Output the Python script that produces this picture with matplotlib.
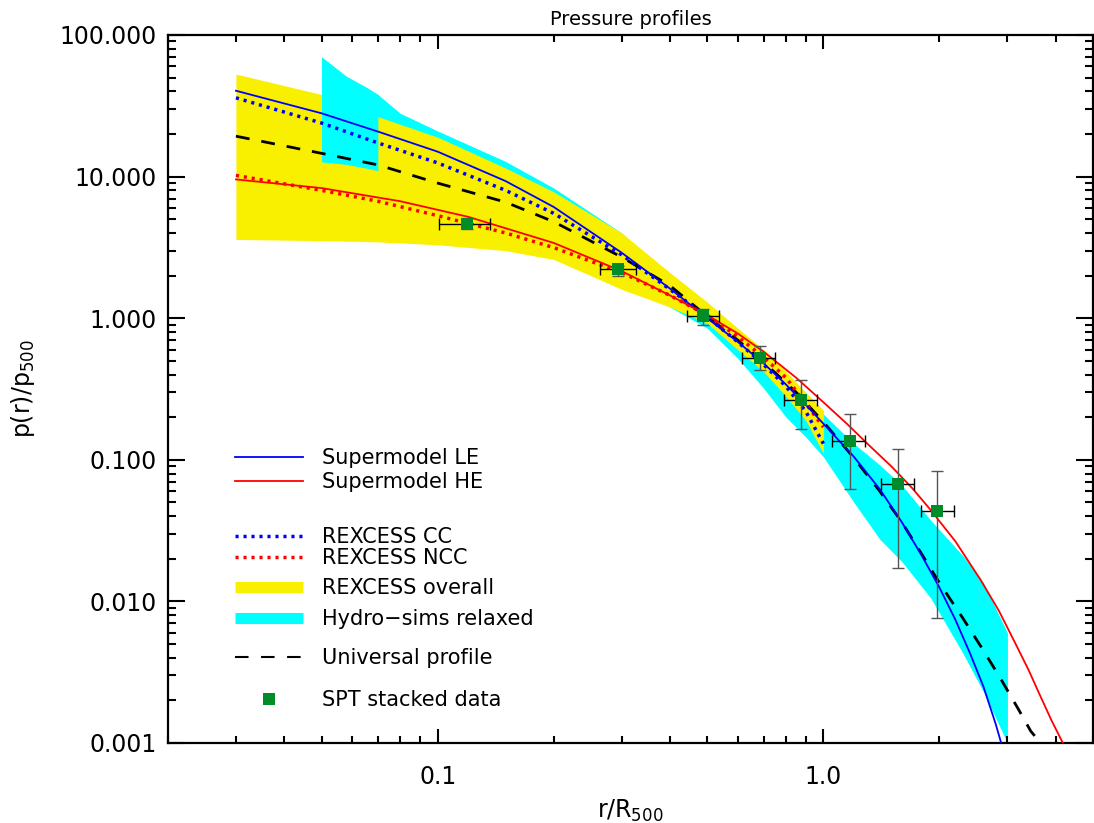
import numpy as np
import matplotlib
matplotlib.use('Agg')
import matplotlib.pyplot as plt
from matplotlib.lines import Line2D
from matplotlib.legend import Legend
from matplotlib.ticker import LogLocator, FixedLocator, FuncFormatter, NullFormatter

# Supermodel, low entropy core (blue solid)
r_le = [0.03, 0.05, 0.07, 0.1, 0.15, 0.2, 0.3, 0.4, 0.5, 0.6, 0.7, 0.8, 0.9, 1.0,
        1.2, 1.4, 1.6, 1.8, 2.0, 2.2, 2.4, 2.6, 2.8, 2.89]
p_le = [40.4, 28, 20.8, 15, 9.3, 6.1, 2.9, 1.62, 1.0, 0.68, 0.48, 0.34, 0.245, 0.18,
        0.105, 0.062, 0.036, 0.021, 0.0125, 0.0074, 0.0043, 0.0025, 0.00135, 0.001]

# Supermodel, high entropy core (red solid)
r_he = [0.03, 0.05, 0.08, 0.12, 0.2, 0.3, 0.4, 0.5, 0.6, 0.7, 0.85, 1.0, 1.15, 1.3,
        1.5, 1.7, 1.9, 2.2, 2.56, 2.85, 3.14, 3.4, 3.65, 3.9, 4.2]
p_he = [9.55, 8.3, 6.7, 5.2, 3.4, 2.15, 1.45, 1.05, 0.78, 0.58, 0.38, 0.255, 0.18, 0.13,
        0.09, 0.063, 0.044, 0.0265, 0.0141, 0.0086, 0.0051, 0.0033, 0.00215, 0.00145, 0.00097]

# REXCESS cool-core / non-cool-core (dotted)
r_rex = [0.03, 0.05, 0.07, 0.1, 0.15, 0.2, 0.3, 0.4, 0.5, 0.6, 0.7, 0.8, 0.9, 1.0]
p_cc = [36, 23.9, 17.3, 12.5, 8.0, 5.5, 2.8, 1.6, 1.02, 0.68, 0.47, 0.33, 0.22, 0.13]
p_ncc = [10.2, 8.0, 6.7, 5.3, 4.0, 3.15, 2.1, 1.45, 1.05, 0.74, 0.53, 0.38, 0.25, 0.17]

# REXCESS overall envelope (yellow)
rex_hi = [53, 38, 26.5, 19, 11.5, 7.8, 4.0, 2.1, 1.3, 0.85, 0.6, 0.42, 0.3, 0.224]
rex_lo = [3.6, 3.53, 3.46, 3.3, 3.0, 2.6, 1.6, 1.2, 0.92, 0.6, 0.42, 0.28, 0.19, 0.111]

# Hydro-sims relaxed envelope (cyan)
r_sim = [0.05, 0.058, 0.065, 0.07, 0.08, 0.1, 0.15, 0.2, 0.3, 0.4, 0.5, 0.6, 0.7, 0.8,
         0.9, 1.0, 1.2, 1.4, 1.6, 1.9, 2.3, 2.6, 3.0]
sim_hi = [70, 51, 43, 38, 28, 21, 12.8, 8.3, 4.0, 1.9, 1.1, 0.75, 0.52, 0.37,
          0.28, 0.21, 0.13, 0.092, 0.066, 0.0373, 0.021, 0.0135, 0.006]
sim_lo = [12.7, 12.2, 11.5, 11.0, 10, 8, 5, 3.4, 1.7, 1.2, 0.85, 0.52, 0.32, 0.2,
          0.145, 0.105, 0.05, 0.0275, 0.019, 0.0105, 0.0043, 0.0023, 0.001]

# Universal profile (black dashed)
r_up = [0.03, 0.05, 0.07, 0.1, 0.15, 0.2, 0.3, 0.4, 0.5, 0.6, 0.7, 0.85, 1.0, 1.2,
        1.4, 1.6, 1.8, 2.0, 2.3, 2.6, 2.9, 3.2, 3.45, 3.66]
p_up = [19.3, 14.6, 12.1, 9.0, 6.6, 4.8, 2.7, 1.7, 1.03, 0.7, 0.49, 0.3, 0.185, 0.103,
        0.06, 0.036, 0.0215, 0.0135, 0.0076, 0.0045, 0.00276, 0.00174, 0.00121, 0.001]

# SPT stacked data
spt_r = [0.119, 0.294, 0.488, 0.683, 0.875, 1.17, 1.56, 1.975]
spt_p = [4.61, 2.21, 1.03, 0.527, 0.266, 0.136, 0.068, 0.0432]
spt_r_lo = [0.1007, 0.264, 0.442, 0.615, 0.79, 1.05, 1.41, 1.79]
spt_r_hi = [0.137, 0.326, 0.537, 0.75, 0.965, 1.285, 1.72, 2.18]
spt_p_lo = [4.3, 2.0, 0.89, 0.43, 0.164, 0.0625, 0.0172, 0.00762]
spt_p_hi = [5.07, 2.35, 1.17, 0.637, 0.365, 0.212, 0.119, 0.0834]

yellow = '#f9f000'
cyan = '#00ffff'
green = '#008c28'

fig = plt.figure(figsize=(10.94, 8.23), dpi=100)
ax = fig.add_axes([168 / 1094, 80 / 823, 925 / 1094, 708 / 823])
ax.set_xscale('log')
ax.set_yscale('log')
ax.set_xlim(0.02, 5)
ax.set_ylim(0.001, 100)

r_sim_a = np.array(r_sim)
inner = r_sim_a <= 0.07
ax.fill_between(r_sim, sim_lo, sim_hi, color=cyan, lw=0, zorder=1)
ax.fill_between(r_rex, rex_lo, rex_hi, color=yellow, lw=0, zorder=2)
ax.fill_between(r_sim_a[inner], np.array(sim_lo)[inner], np.array(sim_hi)[inner],
                color=cyan, lw=0, zorder=3)

ax.plot(r_up, p_up, color='black', lw=2, ls=(0, (5, 4.3)), zorder=4)
ax.plot(r_rex, p_cc, color='blue', lw=2.5, ls=(0, (0.9, 1.4)), zorder=5)
ax.plot(r_rex, p_ncc, color='red', lw=2.5, ls=(0, (0.9, 1.4)), zorder=5)
ax.plot(r_le, p_le, color='blue', lw=1.3, zorder=6)
ax.plot(r_he, p_he, color='red', lw=1.3, zorder=6)

spt_r_a = np.array(spt_r)
spt_p_a = np.array(spt_p)
xerr = [spt_r_a - np.array(spt_r_lo), np.array(spt_r_hi) - spt_r_a]
yerr = [spt_p_a - np.array(spt_p_lo), np.array(spt_p_hi) - spt_p_a]
ax.errorbar(spt_r, spt_p, yerr=yerr, fmt='none', ecolor='#555555', elinewidth=1,
            capsize=4, capthick=1, zorder=7)
ax.errorbar(spt_r, spt_p, xerr=xerr, fmt='none', ecolor='black', elinewidth=1,
            capsize=4, capthick=1, zorder=7)
ax.plot(spt_r, spt_p, 's', color=green, ms=9, mew=0, zorder=8)

# axes and ticks, IDL style
for sp in ax.spines.values():
    sp.set_linewidth(1.6)
ax.xaxis.set_major_locator(FixedLocator([0.1, 1.0]))
ax.xaxis.set_major_formatter(FuncFormatter(lambda v, p: '%.1f' % v))
ax.xaxis.set_minor_locator(LogLocator(base=10, subs=np.arange(2, 10)))
ax.xaxis.set_minor_formatter(NullFormatter())
ax.yaxis.set_major_locator(LogLocator(base=10, numticks=10))
ax.yaxis.set_major_formatter(FuncFormatter(lambda v, p: '%.3f' % v))
ax.yaxis.set_minor_locator(LogLocator(base=10, subs=np.arange(2, 10), numticks=20))
ax.yaxis.set_minor_formatter(NullFormatter())
ax.tick_params(axis='both', which='both', direction='in', top=True, right=True, width=1.5)
ax.tick_params(axis='x', which='major', length=10, pad=16, labelsize=17)
ax.tick_params(axis='x', which='minor', length=5)
ax.tick_params(axis='y', which='major', length=12, pad=8, labelsize=17)
ax.tick_params(axis='y', which='minor', length=6)

ax.set_title('Pressure profiles', fontsize=14, pad=7)
ax.set_xlabel('r/R$_{500}$', fontsize=17, labelpad=6)
ax.set_ylabel('p(r)/p$_{500}$', fontsize=17, labelpad=16)

# legend, one row at a time to keep the uneven spacing
entries = [
    (Line2D([], [], color='blue', lw=1.3), 'Supermodel LE', 0.4025),
    (Line2D([], [], color='red', lw=1.3), 'Supermodel HE', 0.3686),
    (Line2D([], [], color='blue', lw=2.5, ls=(0, (0.9, 1.4))), 'REXCESS CC', 0.291),
    (Line2D([], [], color='red', lw=2.5, ls=(0, (0.9, 1.4))), 'REXCESS NCC', 0.2613),
    (Line2D([], [], color=yellow, lw=8, solid_capstyle='butt'), 'REXCESS overall', 0.219),
    (Line2D([], [], color=cyan, lw=8, solid_capstyle='butt'), 'Hydro\u2212sims relaxed', 0.1751),
    (Line2D([], [], color='black', lw=1.5, ls=(0, (6.5, 6))), 'Universal profile', 0.12),
    (Line2D([], [], color=green, marker='s', ls='none', ms=9, mew=0), 'SPT stacked data', 0.0607),
]
for h, lab, ypos in entries:
    leg = Legend(ax, [h], [lab], loc='center left', bbox_to_anchor=(0.0724, ypos),
                 frameon=False, fontsize=15, handlelength=3.26, handletextpad=0.91,
                 borderpad=0, borderaxespad=0, numpoints=1)
    ax.add_artist(leg)

fig.savefig('out.png', dpi=100)
